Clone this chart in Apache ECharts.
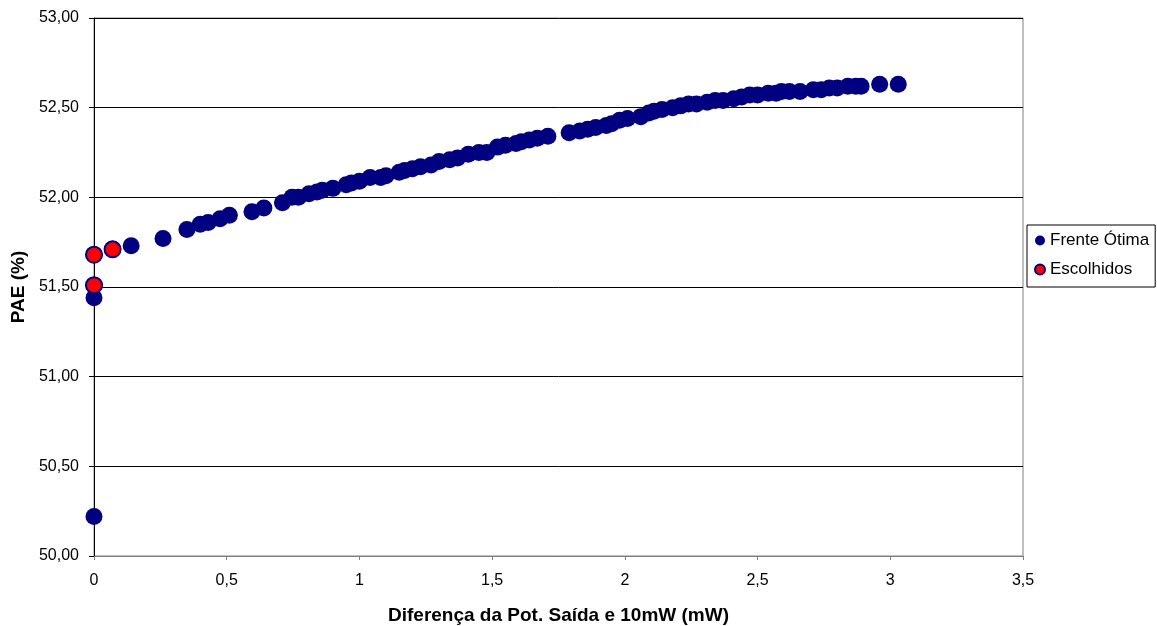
<!DOCTYPE html>
<html><head><meta charset="utf-8">
<script src="https://cdn.jsdelivr.net/npm/echarts@6/dist/echarts.min.js"></script>
<style>html,body{margin:0;padding:0;background:#fff}#c{width:1157px;height:626px}</style>
</head><body><div id="c"></div>
<script>
const frenteX = [0,0,0,0,0.07,0.14,0.26,0.35,0.40,0.43,0.475,0.51,0.595,0.64,0.71,0.746,0.77,0.81,0.84,0.86,0.90,0.95,0.97,1.00,1.04,1.08,1.10,1.15,1.17,1.20,1.23,1.27,1.30,1.34,1.37,1.41,1.45,1.48,1.52,1.55,1.59,1.61,1.64,1.67,1.71,1.79,1.83,1.86,1.89,1.93,1.95,1.98,2.01,2.06,2.09,2.11,2.14,2.18,2.21,2.24,2.27,2.31,2.34,2.37,2.41,2.44,2.47,2.50,2.54,2.57,2.59,2.62,2.66,2.71,2.74,2.77,2.80,2.84,2.87,2.89,2.96,3.03];
const frenteY = [50.22,51.44,51.51,51.68,51.71,51.73,51.77,51.82,51.85,51.86,51.88,51.90,51.92,51.94,51.97,52.00,52.00,52.02,52.03,52.04,52.05,52.07,52.08,52.09,52.11,52.11,52.12,52.14,52.15,52.16,52.17,52.18,52.20,52.21,52.22,52.24,52.25,52.25,52.28,52.29,52.30,52.31,52.32,52.33,52.34,52.36,52.37,52.38,52.39,52.40,52.41,52.43,52.44,52.45,52.47,52.48,52.49,52.50,52.51,52.52,52.52,52.53,52.54,52.54,52.55,52.56,52.57,52.57,52.58,52.58,52.59,52.59,52.59,52.60,52.60,52.61,52.61,52.62,52.62,52.62,52.63,52.63];
const escolhidosX = [0,0,0.07];
const escolhidosY = [51.51,51.68,51.71];
const xTicks = [0,0.5,1,1.5,2,2.5,3,3.5];
const yTicks = [50,50.5,51,51.5,52,52.5,53];

const chart = echarts.init(document.getElementById('c'), null, {renderer:'canvas'});
const font = 'Liberation Sans, Arial, sans-serif';
chart.setOption({
  animation:false,
  backgroundColor:'#fff',
  textStyle:{fontFamily:font},
  grid:{left:94,right:134,top:18,bottom:70,show:true,borderColor:'#808080',borderWidth:1,containLabel:false,outerBoundsMode:'none'},
  legend:{
    orient:'vertical',left:1027,top:225,
    data:['Frente Ótima','Escolhidos'],
    icon:'circle',itemWidth:10,itemHeight:10,itemGap:12,
    borderColor:'#000',borderWidth:1,padding:[7,6,9,7],
    textStyle:{fontFamily:font,fontSize:17,color:'#000'}
  },
  xAxis:{
    type:'value',min:0,max:3.5,interval:0.5,
    name:'Diferença da Pot. Saída e 10mW (mW)',nameLocation:'middle',nameGap:50,
    nameTextStyle:{fontFamily:font,fontSize:19,fontWeight:'bold',color:'#000'},
    axisLine:{show:true,onZero:false,lineStyle:{color:'#808080'}},
    axisTick:{show:true,length:4,lineStyle:{color:'#808080'}},
    axisLabel:{fontFamily:font,fontSize:16,color:'#000',margin:17,formatter:v=>String(v).replace('.',',')},
    splitLine:{show:false}
  },
  yAxis:{
    type:'value',min:50,max:53,interval:0.5,
    name:'PAE (%)',nameLocation:'middle',nameGap:66,nameRotate:90,
    nameTextStyle:{fontFamily:font,fontSize:19,fontWeight:'bold',color:'#000'},
    axisLine:{show:true,onZero:false,lineStyle:{color:'#000'}},
    axisTick:{show:true,length:5,lineStyle:{color:'#000'}},
    axisLabel:{fontFamily:font,fontSize:16,color:'#000',margin:15,formatter:v=>v.toFixed(2).replace('.',',')},
    splitLine:{show:true,lineStyle:{color:'#000',width:1}}
  },
  series:[
    {name:'Frente Ótima',type:'scatter',symbol:'circle',symbolSize:17,
     itemStyle:{color:'#000080',opacity:1},
     data:frenteX.map((x,i)=>[x,frenteY[i]]),z:2},
    {name:'Escolhidos',type:'scatter',symbol:'circle',symbolSize:16,
     itemStyle:{color:'#ff0000',borderColor:'#000080',borderWidth:2,opacity:1},
     data:escolhidosX.map((x,i)=>[x,escolhidosY[i]]),z:3}
  ]
});
</script></body></html>
